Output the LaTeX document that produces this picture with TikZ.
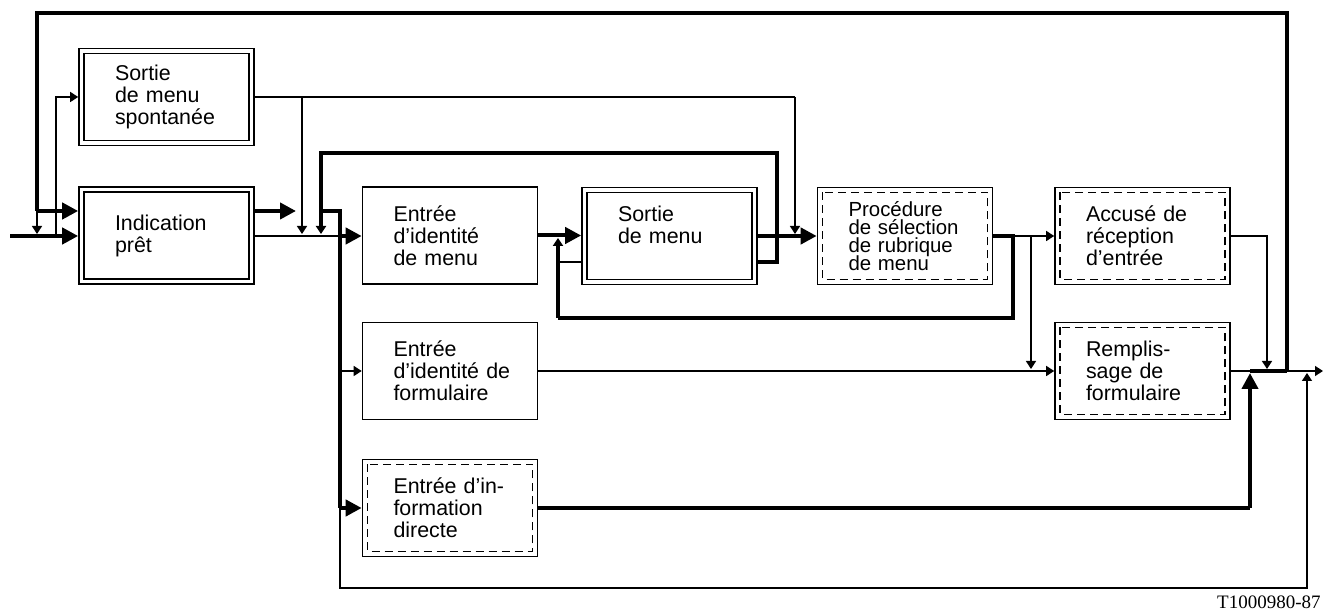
\documentclass[tikz,border=0pt]{standalone}
\usepackage{fontspec}
\setmainfont{Liberation Sans}
\newfontfamily\lblfont{Liberation Serif}
\usetikzlibrary{arrows.meta}
\newcommand\myboxfont{\fontsize{10.7}{11}\selectfont\lineskiplimit=-5pt\relax}
\newcommand\myprcfont{\fontsize{10.2}{9}\selectfont\lineskiplimit=-5pt\relax}
\begin{document}
\begin{tikzpicture}[x=0.5pt,y=-0.5pt,
  box/.style={draw,line width=0.8pt,minimum width=87.5pt,minimum height=48.5pt,
    inner xsep=15.5pt,text width=56.5pt,align=left,font=\myboxfont},
  dbl/.style={box,inner xsep=18pt,text width=51.5pt,
    path picture={\draw[line width=0.6pt]
      ([xshift=2.5pt,yshift=-2.5pt]path picture bounding box.north west) rectangle
      ([xshift=-2.5pt,yshift=2.5pt]path picture bounding box.south east);}},
  dsh/.style={box,
    path picture={\draw[line width=0.6pt,dash pattern=on 4pt off 2.5pt]
      ([xshift=2.5pt,yshift=-2.5pt]path picture bounding box.north west) rectangle
      ([xshift=-2.5pt,yshift=2.5pt]path picture bounding box.south east);}},
  thn/.style={line width=0.7pt},
  med/.style={line width=1.2pt},
  thk/.style={line width=2pt},
  sa/.style={-{Triangle[length=4pt,width=5pt]}},
  ba/.style={-{Triangle[length=8pt,width=8pt]}}
]
\useasboundingbox (0,0) rectangle (1323,613);

% boxes
\node[dbl] (spo) at (166.5,97) {Sortie\\de~menu\\spontanée};
\node[dbl] (ind) at (166.5,235.5) {Indication\\prêt};
\node[box] (emn) at (450,235.5) {Entrée\\d’identité\\de~menu};
\node[dbl] (smn) at (669.5,236) {Sortie\\de~menu\\\mbox{}};
\node[dsh,font=\myprcfont] (prc) at (905,236) {Procédure\\de~sélection\\de~rubrique\\de~menu};
\node[dsh] (acc) at (1142.5,236) {Accusé~de\\réception\\d’entrée};
\node[dsh] (rem) at (1142.5,371) {Remplis-\\sage~de\\formulaire};
\node[box] (fmn) at (450,371) {Entrée\\d’identité~de\\formulaire};
\node[dsh] (inf) at (450,508) {Entrée~d’in-\\formation\\directe};

\node[anchor=base east,inner sep=0pt,font=\lblfont\fontsize{9.5}{11}\selectfont] (lbl) at (1321,609) {T1000980-87};

% coordinates
\coordinate (in) at (10,236);
\coordinate (tl) at (37,211);
\coordinate (jb) at (1287,371);
\coordinate (b1) at (340,236);
\coordinate (v0) at (340,211);
\coordinate (s1) at (302,97);
\coordinate (s2) at (795,97);
\coordinate (p1) at (1013,236);
\coordinate (bt) at (1307,588);
\coordinate (k1) at (1250,371);
\coordinate (out) at (1323,371);

% input and top feedback loop
\draw[thk,ba] (in) -- (in -| ind.west);
\draw[thk] (jb) -- (1287,13) -- (37,13) -- (tl);
\draw[thk,ba] (tl) -- (tl -| ind.west);
\draw[thn,sa] (tl) -- (37,234);
\draw[thn,sa] (56,236) |- (spo.west);

% Indication pret outputs
\draw[thk,ba] (ind.east |- tl) -- (296,211);
\draw[med] (ind.east |- in) -- (b1);
\draw[thk,ba] (b1) -- (b1 -| emn.west);

% spontaneous menu output
\draw[thn] (spo.east) -- (s2);
\draw[thn,sa] (s1) -- (302,234);
\draw[thn,sa] (s2) -- (795,234);

% upper loop from Sortie de menu
\draw[thk,sa] ([yshift=-13pt]smn.east) -- (777,262) -- (777,153) -- (321,153) -- (321,234);
\draw[thk] (321,211) -- (v0) -- (v0 |- inf.west);
\draw[thk,ba] (v0 |- inf.west) -- (inf.west);
\draw[thn,sa] (v0 |- fmn.west) -- (fmn.west);
\draw[thn,sa] (v0 |- inf.west) -- (v0 |- bt) -- (bt) -- (1307,373);

% menu chain
\draw[thk,ba] (emn.east) -- (emn.east -| smn.west);
\draw[thk,ba] (smn.east) -- (prc.west);
\draw[med] ([yshift=-13pt]smn.west) -- (558,262);
\draw[thk] (prc.east) -- (p1) -- (1013,318) -- (558,318);
\draw[thk,sa] (558,318) -- (558,238);
\draw[thn,sa] (p1) -- (acc.west);
\draw[thn,sa] (1031,236) -- (1031,369);

% form chain
\draw[thn,sa] (fmn.east) -- (fmn.east -| rem.west);
\draw[thk] (inf.east) -- (1250,508);
\draw[thk,ba] (1250,508) -- (1250,373);
\draw[thn] (rem.east) -- (k1);
\draw[thk] (k1) -- (jb);
\draw[thn,sa] (jb) -- (out);
\draw[thn,sa] (acc.east) -| (1267,369);
\end{tikzpicture}
\end{document}
